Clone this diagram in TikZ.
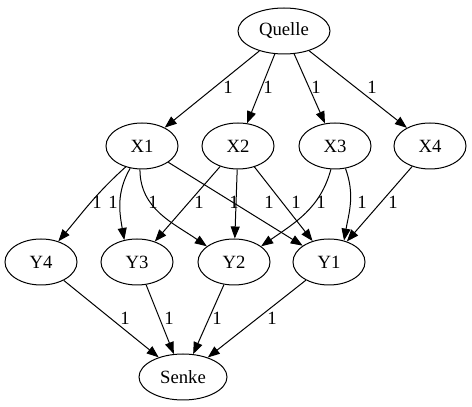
\documentclass[tikz,border=0pt]{standalone}
\usepackage{fontspec}
\setmainfont{Liberation Serif}
\usetikzlibrary{shapes.geometric, arrows.meta}

\begin{document}
\begin{tikzpicture}[x=1pt, y=1pt, ->, >={Triangle[length=12pt, width=9pt]}, line width=1pt,
    every node/.style={font=\fontsize{18.7}{22}\selectfont},
    vertex/.style={ellipse, draw, minimum width=72pt, minimum height=46pt, inner sep=0pt},
    lbl/.style={inner sep=0pt}]
      \useasboundingbox (0,0) rectangle (472,407);

      \node[vertex, minimum width=92pt] (q) at (284,376) {Quelle};
      \node[vertex] (x1) at (142,261) {X1};
      \node[vertex] (x2) at (238,261) {X2};
      \node[vertex] (x3) at (335,261) {X3};
      \node[vertex] (x4) at (430,261) {X4};
      \node[vertex] (y4) at (41,145) {Y4};
      \node[vertex] (y3) at (137,145) {Y3};
      \node[vertex] (y2) at (234,145) {Y2};
      \node[vertex] (y1) at (329,145) {Y1};
      \node[vertex, minimum width=88pt] (s) at (183,30) {Senke};

      \path (q) edge (x1)
            (q) edge (x2)
            (q) edge (x3)
            (q) edge (x4)
            (x1.-128) edge [out=-138, in=50] (y4.50)
            (x1.-118) edge [out=-120, in=100] (y3.120)
            (x1.-95) edge [out=-90, in=145] (y2.150)
            (x1) edge (y1)
            (x2) edge (y3)
            (x2) edge (y2)
            (x2) edge (y1)
            (x3.-100) edge [out=-105, in=35] (y2.30)
            (x3.-65) edge [out=-70, in=80] (y1.55)
            (x4) edge (y1)
            (y4) edge (s)
            (y3) edge (s)
            (y2) edge (s)
            (y1) edge (s);

      % edge weights
      \foreach \x/\y [count=\i] in {228/320, 268/320, 316/320, 372/320,
          97/205, 113/205, 153/205, 199/205, 234/205, 269/205, 296/205,
          321/205, 362/205, 393/205, 125/89, 169/89, 217/89, 272/89}
        \node[lbl] (w\i) at (\x,\y) {1};
    \end{tikzpicture}
\end{document}
